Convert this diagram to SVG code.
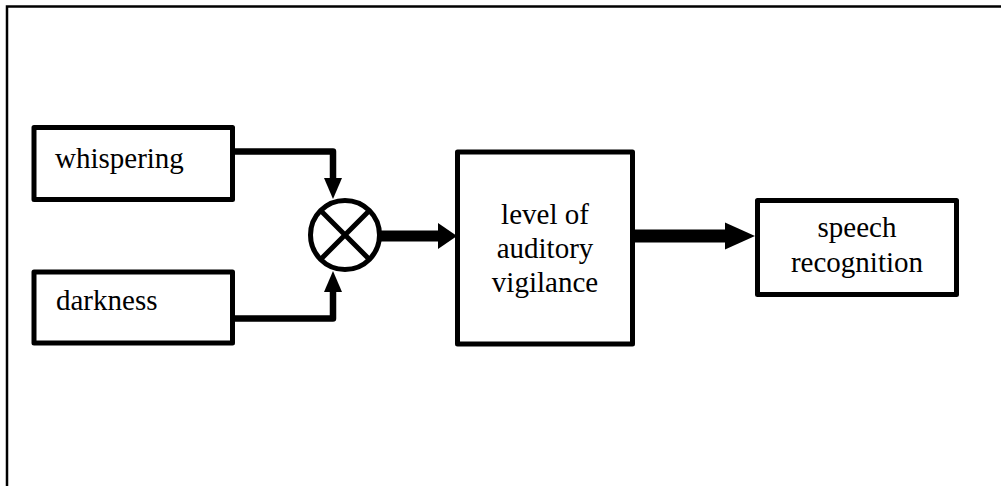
<svg xmlns="http://www.w3.org/2000/svg" width="1001" height="486" viewBox="0 0 1001 486">
<style>
.box{fill:#fff;stroke:#000;stroke-width:5;stroke-linejoin:round}
text{font-family:'Liberation Serif','Times New Roman',Times,'DejaVu Serif',serif;font-size:29px;fill:#000}
.wire{fill:none;stroke:#000;stroke-width:6.5;stroke-linejoin:round}
.head{fill:#000;stroke:none}
</style>
<rect width="1001" height="486" fill="#fff"/>
<path d="M7,486 V6.5 H1001" fill="none" stroke="#000" stroke-width="2.5"/>
<g id="connectors">
  <path class="wire" d="M232,151.5 H333 V180"/>
  <polygon class="head" points="324,178 342,178 333,199"/>
  <path class="wire" d="M232,318.5 H333 V290"/>
  <polygon class="head" points="324,292 342,292 333,271"/>
  <rect x="380" y="230.5" width="59" height="11" fill="#000"/>
  <polygon class="head" points="438,223 438,249 457,236"/>
  <rect x="632" y="229.5" width="95" height="13" fill="#000"/>
  <polygon class="head" points="725,222.5 725,249.5 755,236"/>
</g>
<g id="whispering">
  <rect class="box" x="34" y="127.5" width="198.5" height="72"/>
  <text x="55" y="168" font-family="Liberation Serif, serif">whispering</text>
</g>
<g id="darkness">
  <rect class="box" x="34" y="272" width="198.5" height="71"/>
  <text x="56" y="310" font-family="Liberation Serif, serif">darkness</text>
</g>
<g id="multiplier">
  <circle cx="345" cy="235" r="34.5" fill="#fff" stroke="#000" stroke-width="5"/>
  <path d="M320.6,210.6 L369.4,259.4 M369.4,210.6 L320.6,259.4" stroke="#000" stroke-width="5"/>
</g>
<g id="vigilance">
  <rect class="box" x="457.5" y="152" width="175" height="192"/>
  <text x="545" y="224" text-anchor="middle" font-family="Liberation Serif, serif">level of</text>
  <text x="545" y="258" text-anchor="middle" font-family="Liberation Serif, serif">auditory</text>
  <text x="545" y="292" text-anchor="middle" font-family="Liberation Serif, serif">vigilance</text>
</g>
<g id="speech">
  <rect class="box" x="757.5" y="200.5" width="199" height="94"/>
  <text x="857" y="237" text-anchor="middle" font-family="Liberation Serif, serif">speech</text>
  <text x="857" y="272" text-anchor="middle" font-family="Liberation Serif, serif">recognition</text>
</g>
</svg>
